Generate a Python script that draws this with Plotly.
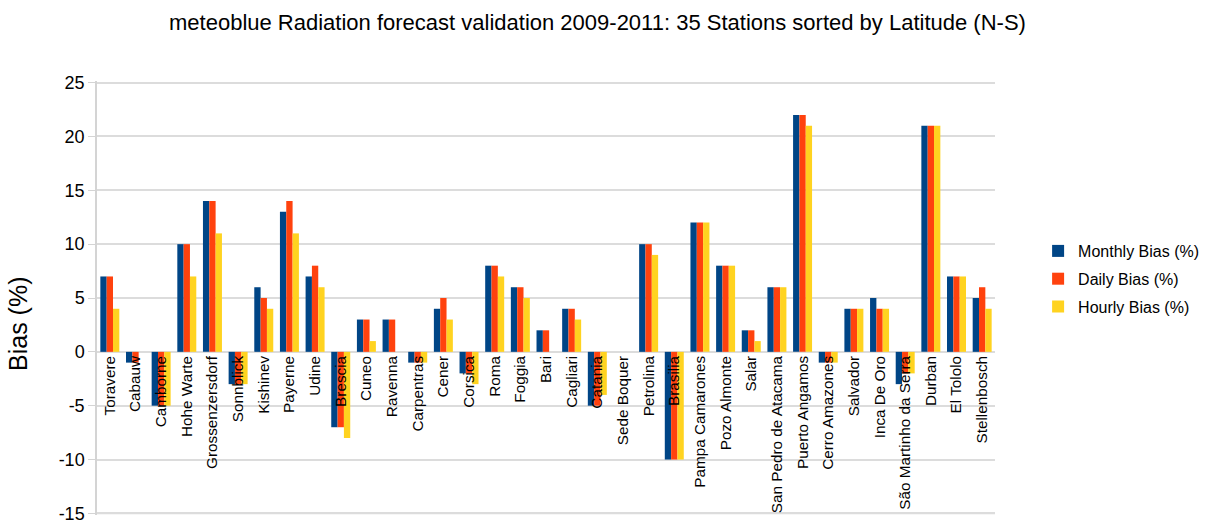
import plotly.graph_objects as go

# Stations sorted by latitude, north to south
stations = [
    "Toravere", "Cabauw", "Camborne", "Hohe Warte", "Grossenzersdorf",
    "Sonnblick", "Kishinev", "Payerne", "Udine", "Brescia", "Cuneo",
    "Ravenna", "Carpentras", "Cener", "Corsica", "Roma", "Foggia", "Bari",
    "Cagliari", "Catania", "Sede Boquer", "Petrolina", "Brasilia",
    "Pampa Camarones", "Pozo Almonte", "Salar", "San Pedro de Atacama",
    "Puerto Angamos", "Cerro Amazones", "Salvador", "Inca De Oro",
    "São Martinho da Serra", "Durban", "El Tololo", "Stellenbosch",
]

monthly_bias = [7, -1, -5, 10, 14, -3, 6, 13, 7, -7, 3, 3, -1, 4, -2, 8, 6, 2,
                4, -5, 0, 10, -10, 12, 8, 2, 6, 22, -1, 4, 5, -3, 21, 7, 5]
daily_bias = [7, -1, -5, 10, 14, -3, 5, 14, 8, -7, 3, 3, -1, 5, -2, 8, 6, 2,
              4, -5, 0, 10, -10, 12, 8, 2, 6, 22, -1, 4, 4, -2, 21, 7, 6]
hourly_bias = [4, 0, -5, 7, 11, -3, 4, 11, 6, -8, 1, 0, -1, 3, -3, 7, 5, 0,
               3, -4, 0, 9, -10, 12, 8, 1, 6, 21, -1, 4, 4, -2, 21, 7, 4]

series_names = ["Monthly Bias (%)", "Daily Bias (%)", "Hourly Bias (%)"]
series_colors = ["#004586", "#ff420e", "#ffd320"]

y_ticks = [-15, -10, -5, 0, 5, 10, 15, 20, 25]
y_tick_text = ["-15", "-10", "-5", "0", "5", "10", "15", "20", "25"]
y_min, y_max = -15, 25

font_family = "Liberation Sans, Arial, sans-serif"
grid_color = "#dcdcdc"

fig = go.Figure()
for i, (name, values, color) in enumerate(zip(series_names,
                                              [monthly_bias, daily_bias, hourly_bias],
                                              series_colors)):
    fig.add_trace(go.Bar(
        x=stations, y=values, name=name, legendgroup=f"g{i}",
        marker=dict(color=color, line=dict(width=0)),
    ))

# a little padding around the value range
pad = 0.15
lo, hi = y_min - pad, y_max + pad
# category labels hang from the zero line
zero_pos = (0 - lo) / (hi - lo)

top, bottom = 81, 8
plot_h = 523 - top - bottom


def paper_y(px):
    """Page pixel row -> paper fraction of the plotting area."""
    return (523 - bottom - px) / plot_h


fig.update_layout(
    width=1207, height=523,
    margin=dict(l=97, r=212, t=top, b=bottom, autoexpand=False),
    paper_bgcolor="white", plot_bgcolor="white",
    font=dict(family=font_family, color="black"),
    barmode="group", bargap=0.26, bargroupgap=0,
    title=dict(
        text="meteoblue Radiation forecast validation 2009-2011: 35 Stations sorted by Latitude (N-S)",
        x=0.495, xanchor="center", y=1 - 22 / 523, yanchor="middle",
        font=dict(size=22, family=font_family, color="black"),
    ),
    xaxis=dict(
        type="category", anchor="free", position=zero_pos, automargin=False,
        showline=False, showgrid=False, ticks="", tickangle=-90,
        tickfont=dict(size=15.3, family=font_family, color="black"),
    ),
    yaxis=dict(
        domain=[0, 1], range=[lo, hi], tickvals=y_ticks, ticktext=y_tick_text,
        automargin=False, ticklabeloverflow="allow",
        showgrid=True, gridcolor=grid_color, gridwidth=1.5,
        zeroline=False, showline=True, linecolor="#d4d4d4", linewidth=1.5,
        ticks="outside", ticklen=7, tickcolor="#d4d4d4",
        tickfont=dict(size=18, family=font_family, color="black"),
    ),
    legend=dict(
        x=1.048, xanchor="left", y=paper_y(279), yanchor="middle",
        font=dict(size=16, family=font_family, color="black"),
        bgcolor="rgba(0,0,0,0)", tracegroupgap=4,
    ),
    annotations=[dict(
        text="Bias (%)", textangle=-90, xref="paper", yref="paper",
        x=-0.088, y=paper_y(324), xanchor="center", yanchor="middle",
        showarrow=False, font=dict(size=25, family=font_family, color="black"),
    )],
)

# bottom gridline at the lowest tick
fig.add_shape(
    type="line", xref="paper", yref="y", x0=0, x1=1, y0=y_min, y1=y_min,
    line=dict(color=grid_color, width=1.5), layer="below",
)

fig.write_html("out.html")
